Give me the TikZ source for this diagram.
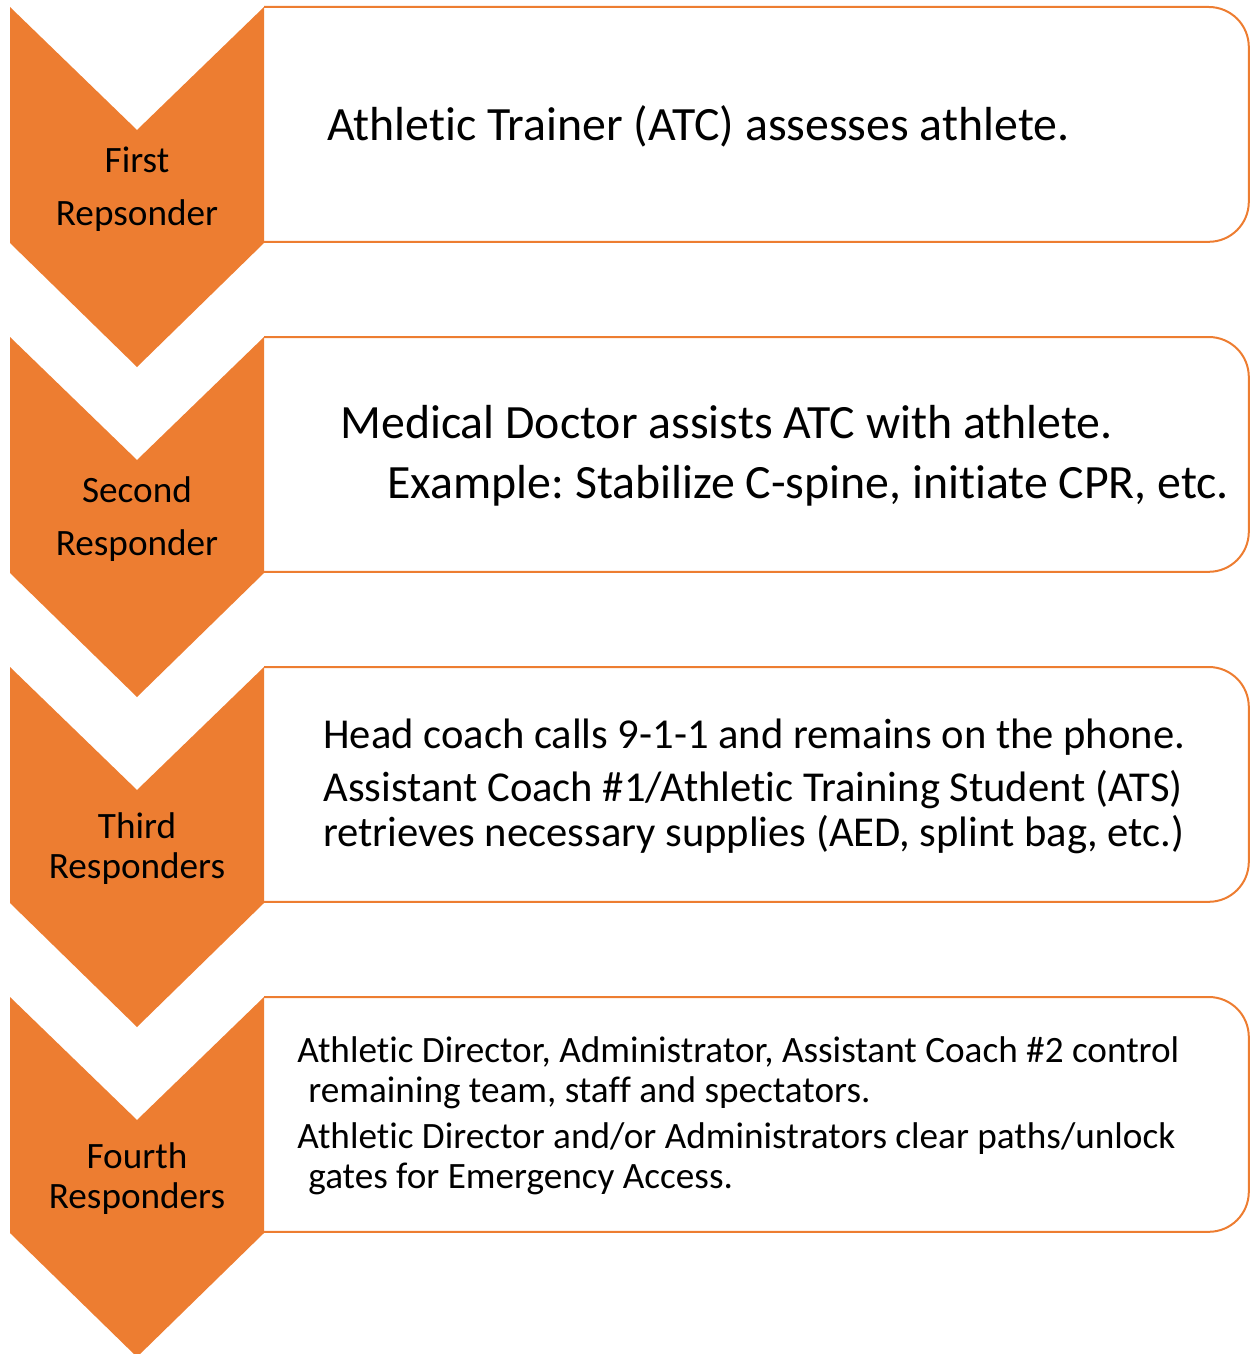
\documentclass[tikz,border=0pt]{standalone}
\usepackage{fontspec}
\setmainfont{Carlito}[Ligatures=CommonOff]
\usetikzlibrary{positioning,calc}
\definecolor{accentorange}{HTML}{ED7D31}
\frenchspacing

\begin{document}
\begin{tikzpicture}[
      x=0.5pt,y=-0.5pt,
      chevron/.style={fill=accentorange,draw=none},
      role/.style={align=center,text=black,inner sep=0pt},
      box/.style={draw=none,minimum width=492pt,minimum height=117pt,anchor=north west,inner sep=0pt},
      boxline/.style={draw=accentorange,line width=1pt,rounded corners=20pt},
      txt/.style={anchor=west,align=left,inner sep=0pt,text=black}
    ]
    \useasboundingbox (0,0) rectangle (1249,1354);
    % boxes
    \node[box] (firstbox) at (264,7) {};
    \node[box] (secondbox) at (264,337) {};
    \node[box] (thirdbox) at (264,667) {};
    \node[box] (fourthbox) at (264,997) {};
    \draw[boxline] (firstbox.north west) -- (firstbox.north east) -- (firstbox.south east) -- (firstbox.south west);
    \draw[boxline] (secondbox.north west) -- (secondbox.north east) -- (secondbox.south east) -- (secondbox.south west);
    \draw[boxline] (thirdbox.north west) -- (thirdbox.north east) -- (thirdbox.south east) -- (thirdbox.south west);
    \draw[boxline] (fourthbox.north west) -- (fourthbox.north east) -- (fourthbox.south east) -- (fourthbox.south west);
    % chevrons
    \fill[chevron] (10,7) -- (137,130) -- (264,7) -- (264,243) -- (137,367) -- (10,243) -- cycle;
    \fill[chevron] (10,337) -- (137,460) -- (264,337) -- (264,573) -- (137,697) -- (10,573) -- cycle;
    \fill[chevron] (10,667) -- (137,790) -- (264,667) -- (264,903) -- (137,1027) -- (10,903) -- cycle;
    \fill[chevron] (10,997) -- (137,1120) -- (264,997) -- (264,1233) -- (137,1357) -- (10,1233) -- cycle;
    % roles
    \node[role,font=\fontsize{18.6}{26.5}\selectfont] (first) at (137,189) {First\\Repsonder};
    \node[role,font=\fontsize{18.6}{26.5}\selectfont] (second) at (137,519) {Second\\Responder};
    \node[role,font=\fontsize{18.6}{20}\selectfont] (third) at (137,849) {Third\\Responders};
    \node[role,font=\fontsize{18.6}{20}\selectfont] (fourth) at (137,1179) {Fourth\\Responders};
    % texts
    \node[txt,font=\fontsize{23.9}{28}\selectfont] (atc) at (327,126) {Athletic Trainer (ATC) assesses athlete.};
    \node[txt,font=\fontsize{23.9}{30}\selectfont] (doctor) at (340,456) {Medical Doctor assists ATC with athlete.\\\hspace*{23.5pt}Example: Stabilize C-spine, initiate CPR, etc.};
    \node[txt,font=\fontsize{21.3}{22.5}\selectfont] (coach) at (323,786) {Head coach calls 9-1-1 and remains on the phone.\\[4pt]Assistant Coach \#1/Athletic Training Student (ATS)\\retrieves necessary supplies (AED, splint bag, etc.)};
    \node[txt,font=\fontsize{18.6}{20}\selectfont] (director) at (297,1116) {Athletic Director, Administrator, Assistant Coach \#2 control\\\hspace*{5.5pt}remaining team, staff and spectators.\\[3pt]Athletic Director and/or Administrators clear paths/unlock\\\hspace*{5.5pt}gates for Emergency Access.};
  \end{tikzpicture}
\end{document}
